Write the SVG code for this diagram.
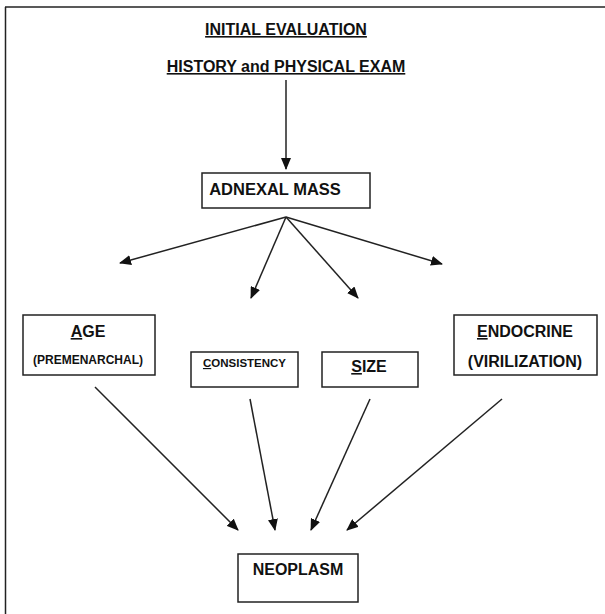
<svg xmlns="http://www.w3.org/2000/svg" width="605" height="614" viewBox="0 0 605 614">
<style>
.box{fill:#fff;stroke:#222;stroke-width:1.5}
.t{font-family:"Liberation Sans",Arial,sans-serif;font-weight:bold;fill:#111;text-anchor:middle}
.c line{stroke:#222;stroke-width:1.5;marker-end:url(#ah)}
</style>
<defs>
<marker id="ah" markerWidth="12" markerHeight="10" refX="11" refY="5" orient="auto" markerUnits="userSpaceOnUse">
<path d="M0,0 L12,5 L0,10 Z" fill="#111"/>
</marker>
</defs>
<rect width="605" height="614" fill="#fff"/>
<g id="frame" stroke="#222" stroke-width="1.5" fill="none">
<line x1="5" y1="7" x2="605" y2="7"/>
<line x1="5.5" y1="7" x2="5.5" y2="614"/>
</g>
<g id="title">
<text class="t" x="286" y="35" font-size="16" text-decoration="underline">INITIAL EVALUATION</text>
<text class="t" x="286" y="72" font-size="16" text-decoration="underline">HISTORY and PHYSICAL EXAM</text>
</g>
<g class="c" id="connectors">
<line x1="286" y1="80" x2="286" y2="169"/>
<line x1="286" y1="217" x2="120" y2="263"/>
<line x1="286" y1="217" x2="251" y2="298"/>
<line x1="286" y1="217" x2="358" y2="298"/>
<line x1="286" y1="217" x2="442" y2="264"/>
<line x1="95" y1="387" x2="238" y2="530"/>
<line x1="250" y1="399" x2="275" y2="530"/>
<line x1="370" y1="399" x2="311" y2="530"/>
<line x1="502" y1="399" x2="347" y2="530"/>
</g>
<g id="adnexal">
<rect class="box" x="202" y="173" width="168" height="35"/>
<text class="t" x="275" y="195" font-size="16.5">ADNEXAL MASS</text>
</g>
<g id="age">
<rect class="box" x="23" y="315" width="132" height="60"/>
<text class="t" x="88" y="337" font-size="16"><tspan text-decoration="underline">A</tspan>GE</text>
<text class="t" x="88" y="364" font-size="12">(PREMENARCHAL)</text>
</g>
<g id="consistency">
<rect class="box" x="191" y="352" width="107" height="35"/>
<text class="t" x="244.5" y="367" font-size="11.5"><tspan text-decoration="underline">C</tspan>ONSISTENCY</text>
</g>
<g id="size">
<rect class="box" x="322" y="352" width="96" height="35"/>
<text class="t" x="369" y="372" font-size="16"><tspan text-decoration="underline">S</tspan>IZE</text>
</g>
<g id="endocrine">
<rect class="box" x="454" y="315" width="143" height="60"/>
<text class="t" x="525" y="337" font-size="16"><tspan text-decoration="underline">E</tspan>NDOCRINE</text>
<text class="t" x="525" y="367" font-size="16">(VIRILIZATION)</text>
</g>
<g id="neoplasm">
<rect class="box" x="238" y="554" width="120" height="48"/>
<text class="t" x="298" y="575" font-size="16">NEOPLASM</text>
</g>
</svg>
